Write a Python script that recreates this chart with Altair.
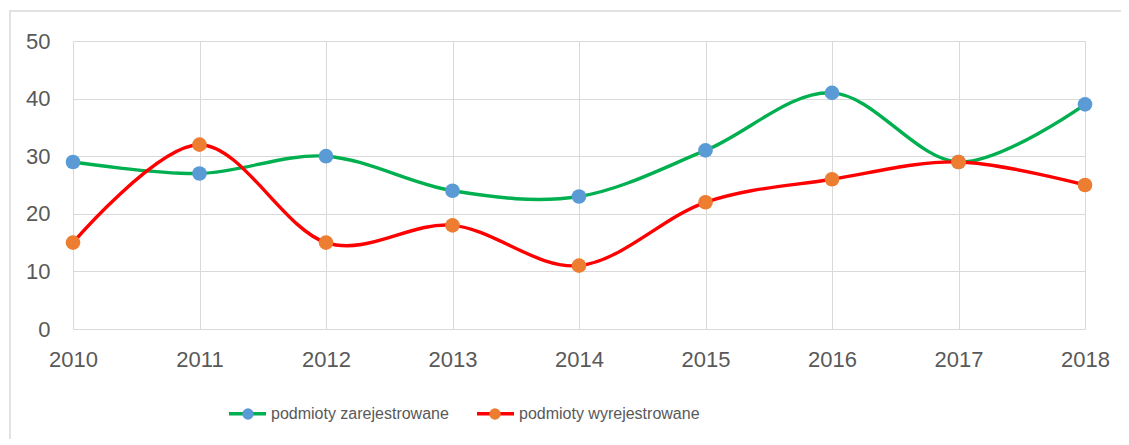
import altair as alt
import pandas as pd

years = [2010, 2011, 2012, 2013, 2014, 2015, 2016, 2017, 2018]
registered = [29, 27, 30, 24, 23, 31, 41, 29, 39]
deregistered = [15, 32, 15, 18, 11, 22, 26, 29, 25]
series_names = ["podmioty zarejestrowane", "podmioty wyrejestrowane"]
line_colors = ["#00B050", "#FF0000"]
point_colors = ["#5B9BD5", "#ED7D31"]
y_ticks = [0, 10, 20, 30, 40, 50]

series_col = [series_names[0]] * len(years) + [series_names[1]] * len(years)
df = pd.DataFrame({
    "year": years * 2,
    "value": registered + deregistered,
    "series": series_col,
    "series_pt": series_col,
})

TICK_FONT = "Liberation Sans"
LEG_FONT = "Liberation Sans"
GRID = "#d9d9d9"
TXT = "#595959"

x = alt.X(
    "year:Q",
    scale=alt.Scale(domain=[2010, 2018], nice=False, zero=False),
    axis=alt.Axis(values=years, format="d", title=None, grid=True, gridColor=GRID,
                  domain=False, ticks=False, labelPadding=20, labelFontSize=22,
                  labelColor=TXT, labelFont=TICK_FONT, labelFlush=False,
                  labelOverlap=False),
)
y = alt.Y(
    "value:Q",
    scale=alt.Scale(domain=[0, 50], nice=False),
    axis=alt.Axis(values=y_ticks, title=None, grid=True, gridColor=GRID,
                  domain=False, ticks=False, labelPadding=23, labelFontSize=22,
                  labelColor=TXT, labelFont=TICK_FONT),
)

lines = alt.Chart(df).mark_line(interpolate="cardinal", strokeWidth=3.4).encode(
    x=x, y=y,
    color=alt.Color(
        "series:N",
        scale=alt.Scale(domain=series_names, range=line_colors),
        legend=alt.Legend(title=None, orient="none", legendX=154, legendY=352,
                          direction="horizontal", symbolType="stroke",
                          symbolSize=1369, symbolStrokeWidth=3.4,
                          labelOffset=3, columnPadding=21, labelFontSize=16,
                          labelLimit=0, labelFont=LEG_FONT, labelColor=TXT),
    ),
)

points = alt.Chart(df).mark_circle(size=215, opacity=1).encode(
    x=x, y=y,
    fill=alt.Fill(
        "series_pt:N",
        scale=alt.Scale(domain=series_names, range=point_colors),
        legend=alt.Legend(title=None, orient="none", legendX=167, legendY=365,
                          direction="horizontal", symbolType="circle",
                          symbolSize=130, symbolOpacity=1, symbolStrokeWidth=0,
                          labelOffset=0, columnPadding=231, labelFontSize=16,
                          labelLimit=0, labelExpr="''"),
    ),
)

border = alt.Chart(pd.DataFrame({"a": [0]})).mark_rect(
    fill=None, stroke=GRID, strokeWidth=1.5
).encode(x=alt.value(-63), x2=alt.value(1100), y=alt.value(-30), y2=alt.value(430))

chart = alt.layer(border, lines, points).properties(
    width=1012, height=288,
    padding={"left": 65, "top": 33, "right": 36, "bottom": 110},
    autosize=alt.AutoSizeParams(type="none"),
).resolve_legend(color="independent", fill="independent").configure_view(stroke=None)

chart.save("out.html", embed_options={"renderer": "svg", "actions": False})
